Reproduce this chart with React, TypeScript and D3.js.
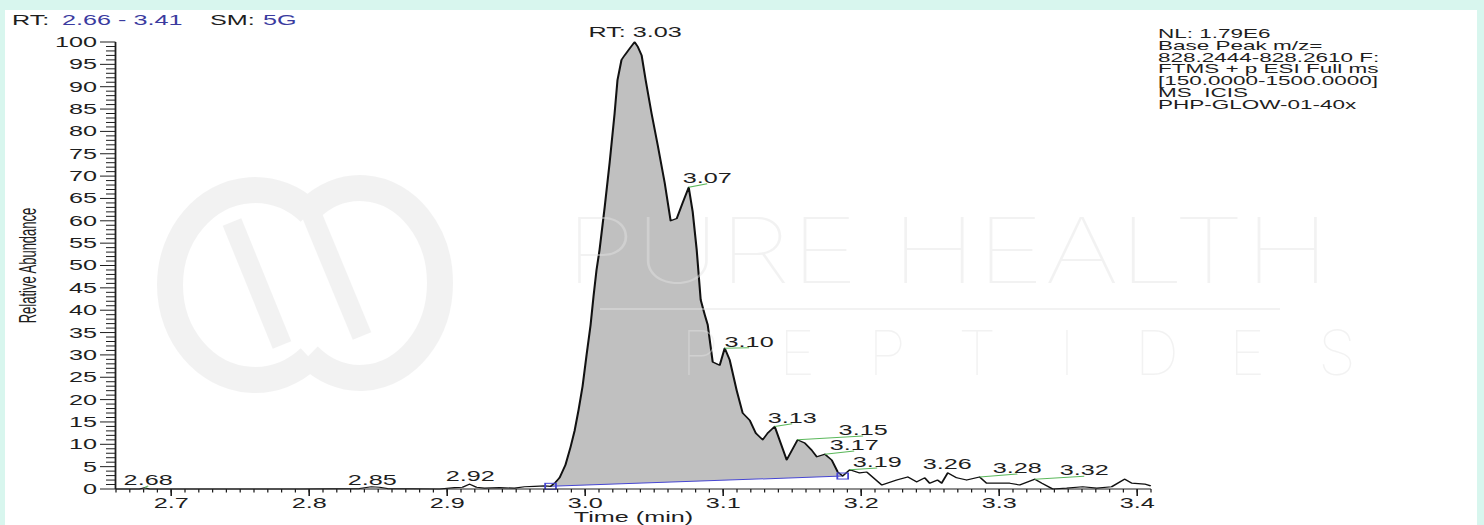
import React from "react";
import * as d3 from "d3";

// ---------- data ----------
const times = [
  2.66, 2.677, 2.6807, 2.6843, 2.793, 2.8364, 2.8451, 2.8509, 2.8567, 2.8944,
  2.9053, 2.9111, 2.9162, 2.9212, 2.927, 2.9379, 2.9488, 2.956, 2.9633, 2.9705,
  2.9749, 2.9785, 2.9814, 2.9857, 2.9894, 2.9923, 2.9952, 2.9981, 3.001, 3.0039,
  3.006, 3.0082, 3.0104, 3.0141, 3.0177, 3.0213, 3.0234, 3.0263, 3.0285, 3.0321,
  3.0358, 3.038, 3.0409, 3.0438, 3.0481, 3.0525, 3.0576, 3.0619, 3.0663, 3.0706,
  3.075, 3.0779, 3.0808, 3.0837, 3.0866, 3.0888, 3.0924, 3.0975, 3.1011, 3.1047,
  3.1098, 3.1141, 3.1192, 3.1236, 3.1286, 3.1322, 3.1373, 3.146, 3.1539, 3.1591,
  3.1641, 3.1678, 3.1736, 3.1786, 3.183, 3.1866, 3.1917, 3.1989, 3.204, 3.2149,
  3.2257, 3.2337, 3.2402, 3.246, 3.2496, 3.2554, 3.2583, 3.2627, 3.2692, 3.2764,
  3.2858, 3.2909, 3.3003, 3.3076, 3.3148, 3.3257, 3.3308, 3.3388, 3.3489, 3.3605,
  3.3707, 3.3815, 3.3909, 3.396, 3.4054, 3.4098,
];
const abundances = [
  0, 0, 0.3, 0, 0, 0.1, 0.5, 0.4, 0.1, 0,
  0.3, 0.4, 1.1, 0.4, 0.2, 0.3, 0.2, 0.5, 0.6, 0.7,
  0.6, 1.5, 2.5, 5.4, 9.4, 13, 17.7, 23, 30, 36.7,
  43, 49, 53.5, 63, 73, 84, 91.5, 96, 97, 98.5,
  100, 99, 97, 91.5, 84, 77, 68.5, 60, 60.5, 64,
  67.5, 62, 53.5, 42.3, 39, 36.7, 28.4, 27.7, 31.5, 28.9,
  22, 17, 15.4, 12.5, 11, 12.5, 14, 6.5, 11, 10.3,
  8.7, 7.2, 7.8, 6.5, 3.8, 2.9, 4.3, 3.6, 3.8, 0.9,
  2, 2.7, 1.6, 2.5, 1.3, 2, 1.3, 3.6, 2.5, 2,
  2.7, 1.3, 1.3, 1.3, 0.9, 2.2, 1.3, 0, 0.2, 0.5,
  0.2, 0.5, 2.2, 1.3, 1.1, 0.7,
];

// peak annotations
const peakLabelTexts = ["RT: 3.03", "3.07", "3.10", "3.13", "3.15", "3.17", "3.19", "3.26", "3.28", "3.32", "2.68", "2.85", "2.92"];
const peakApexTimes = [3.0358, 3.075, 3.1011, 3.1373, 3.1539, 3.1736, 3.1917, 3.2627, 3.2858, 3.3257, 2.6807, 2.8451, 2.9162];
const peakLabelTimes = [3.0362, 3.0884, 3.1188, 3.15, 3.2014, 3.1949, 3.2116, 3.2623, 3.313, 3.3616, 2.6833, 2.8457, 2.9167];
const peakLabelLevels = [101.1, 68.5, 31.8, 14.8, 12.1, 8.7, 4.9, 4.5, 3.6, 3.1, 0.9, 0.9, 1.8];

// integration (peak start / end)
const integrationTimes = [2.9749, 3.1866];
const integrationLevels = [0.6, 2.9];

// axes
const xDomain = [2.66, 3.41];
const xMajorTicks = [2.7, 2.8, 2.9, 3.0, 3.1, 3.2, 3.3, 3.4];
const yMajorTicks = [0, 5, 10, 15, 20, 25, 30, 35, 40, 45, 50, 55, 60, 65, 70, 75, 80, 85, 90, 95, 100];

const headerRange = "2.66 - 3.41";
const headerSmoothing = "5G";
const infoLines = [
  "NL: 1.79E6",
  "Base Peak m/z=",
  "828.2444-828.2610 F:",
  "FTMS + p ESI Full ms",
  "[150.0000-1500.0000]",
  "MS  ICIS",
  "PHP-GLOW-01-40x",
];
const watermarkTitle = "PURE HEALTH";
const watermarkSub = "PEPTIDES";

// ---------- layout ----------
const W = 1484;
const H = 525;
const SX = 1.8; // horizontal stretch of the original export
const FONT = "'Liberation Sans', Arial, Helvetica, sans-serif";
const INK = "#1e1e1e";
const BLUE = "#3b3b9f";
const WM = "#e4e4e4";

export default function App() {
  const x = d3.scaleLinear().domain(xDomain).range([116 / SX, 1151 / SX]);
  const y = d3.scaleLinear().domain([0, 100]).range([489, 42]);

  const pts: [number, number][] = times.map((t, i) => [t, abundances[i]]);
  const line = d3
    .line<[number, number]>()
    .x((d) => x(d[0]))
    .y((d) => y(d[1]));

  const [t0, t1] = integrationTimes;
  const [b0, b1] = integrationLevels;
  const base = (t: number) => b0 + ((b1 - b0) * (t - t0)) / (t1 - t0);
  const inPeak = pts.filter((d) => d[0] >= t0 - 1e-9 && d[0] <= t1 + 1e-9);
  const area = d3
    .area<[number, number]>()
    .x((d) => x(d[0]))
    .y0((d) => y(base(d[0])))
    .y1((d) => y(d[1]));

  const nearestValue = (t: number) => {
    let best = 0;
    times.forEach((tt, i) => {
      if (Math.abs(tt - t) < Math.abs(times[best] - t)) best = i;
    });
    return abundances[best];
  };

  const axisX0 = 115.5 / SX;
  const minorX = d3.range(266, 342).map((i) => i / 100);
  const minorY = d3.range(0, 101);
  const subLetters = watermarkSub.split("");
  const subX = (i: number) => (i === 0 ? 700 : 707 + i * 90);

  return (
    <div style={{ position: "absolute", left: 0, top: 0, width: W, height: H }}>
      <svg width={W} height={H} style={{ display: "block" }} fontFamily={FONT}>
        <rect x={0} y={0} width={W} height={H} fill="#d8f6ee" />
        <rect x={5} y={10} width={W - 12} height={H - 10} fill="#ffffff" />

        <g transform={`scale(${SX},1)`}>
          {/* header */}
          <text x={12 / SX} y={25} fontSize={14} fill={INK}>RT:</text>
          <text x={62 / SX} y={25} fontSize={14} fill={BLUE}>{headerRange}</text>
          <text x={210 / SX} y={25} fontSize={14} fill={INK}>SM:</text>
          <text x={263 / SX} y={25} fontSize={14} fill={BLUE}>{headerSmoothing}</text>

          {/* info block */}
          {infoLines.map((s, i) => (
            <text
              key={i}
              x={1158 / SX}
              y={38 + i * 11.8}
              fontSize={12.5}
              fill={INK}
              style={{ whiteSpace: "pre" }}
            >
              {s}
            </text>
          ))}

          {/* integrated peak */}
          <path d={area(inPeak) || ""} fill="#c0c0c0" stroke="none" />
          <line
            x1={x(t0)}
            y1={y(b0)}
            x2={x(t1)}
            y2={y(b1)}
            stroke="#4646d2"
            strokeWidth={1}
          />

          {/* trace */}
          <path d={line(pts) || ""} fill="none" stroke="#111" strokeWidth={1.15} strokeLinejoin="round" />

          {/* integration markers */}
          {integrationTimes.map((t, i) => (
            <rect
              key={i}
              x={x(t) - 3}
              y={y(integrationLevels[i]) - 3}
              width={6}
              height={6}
              fill="none"
              stroke="#4646d2"
              strokeWidth={1}
            />
          ))}

          {/* peak labels */}
          {peakLabelTexts.map((s, i) => {
            const ax = x(peakApexTimes[i]);
            const ay = y(nearestValue(peakApexTimes[i]));
            const lx = x(peakLabelTimes[i]);
            const ly = y(peakLabelLevels[i]);
            const showLeader = i > 0 && Math.abs(lx - ax) * SX > 3;
            return (
              <g key={i}>
                {showLeader && (
                  <line x1={ax} y1={ay} x2={lx} y2={ly + 1} stroke="#5cb85c" strokeWidth={1} />
                )}
                <text x={lx} y={ly} fontSize={14} textAnchor="middle" fill={INK}>
                  {s}
                </text>
              </g>
            );
          })}

          {/* y axis */}
          <line x1={axisX0} x2={axisX0} y1={y(100)} y2={y(0)} stroke={INK} strokeWidth={1} />
          {minorY.map((v) => (
            <line
              key={v}
              x1={(v % 5 === 0 ? 100 : 106) / SX}
              x2={axisX0}
              y1={y(v)}
              y2={y(v)}
              stroke={INK}
              strokeWidth={1}
            />
          ))}
          {yMajorTicks.map((v) => (
            <text key={v} x={97 / SX} y={y(v) + 5} fontSize={14} textAnchor="end" fill={INK}>
              {v}
            </text>
          ))}
          <text
            transform={`translate(${36 / SX},${(y(0) + y(100)) / 2}) rotate(-90)`}
            fontSize={13}
            textAnchor="middle"
            fill={INK}
          >
            Relative Abundance
          </text>

          {/* x axis */}
          <line x1={axisX0} x2={x(xDomain[1])} y1={y(0)} y2={y(0)} stroke={INK} strokeWidth={1} />
          {minorX.map((t) => (
            <line key={t} x1={x(t)} x2={x(t)} y1={y(0)} y2={y(0) + 3.5} stroke={INK} strokeWidth={0.7} />
          ))}
          {xMajorTicks.map((t) => (
            <g key={t}>
              <line x1={x(t)} x2={x(t)} y1={y(0)} y2={y(0) + 7} stroke={INK} strokeWidth={0.9} />
              <text x={x(t)} y={508} fontSize={14} textAnchor="middle" fill={INK}>
                {t.toFixed(1)}
              </text>
            </g>
          ))}
          <text x={(x(xDomain[0]) + x(xDomain[1])) / 2} y={522} fontSize={14} textAnchor="middle" fill={INK}>
            Time (min)
          </text>
        </g>

        {/* semi-transparent watermark overlay */}
        <g opacity={0.45} pointerEvents="none">
          <g fill="none" stroke={WM} strokeWidth={26}>
            <path d="M 309.6 212.2 A 85 95 0 1 0 309.6 357.8" />
            <path d="M 308.6 210.2 A 80 95 0 1 1 308.6 355.8" />
            <path d="M 232 222 L 282 345" strokeWidth={20} />
            <path d="M 309 208 L 362 336" strokeWidth={20} />
          </g>
          <text
            x={565}
            y={283}
            fontSize={90}
            fontFamily="Inter, 'Open Sans', sans-serif"
            fontWeight={100}
            fill={WM}
            textLength={765}
            lengthAdjust="spacingAndGlyphs"
          >
            {watermarkTitle}
          </text>
          <line x1={600} x2={1280} y1={309} y2={309} stroke={WM} strokeWidth={2} />
          <g
            fontSize={62}
            fontFamily="Inter, 'Open Sans', sans-serif"
            fontWeight={100}
            fill={WM}
            textAnchor="middle"
          >
            {subLetters.map((c, i) => (
              <text key={i} x={subX(i)} y={375}>
                {c}
              </text>
            ))}
          </g>
        </g>
      </svg>
    </div>
  );
}
